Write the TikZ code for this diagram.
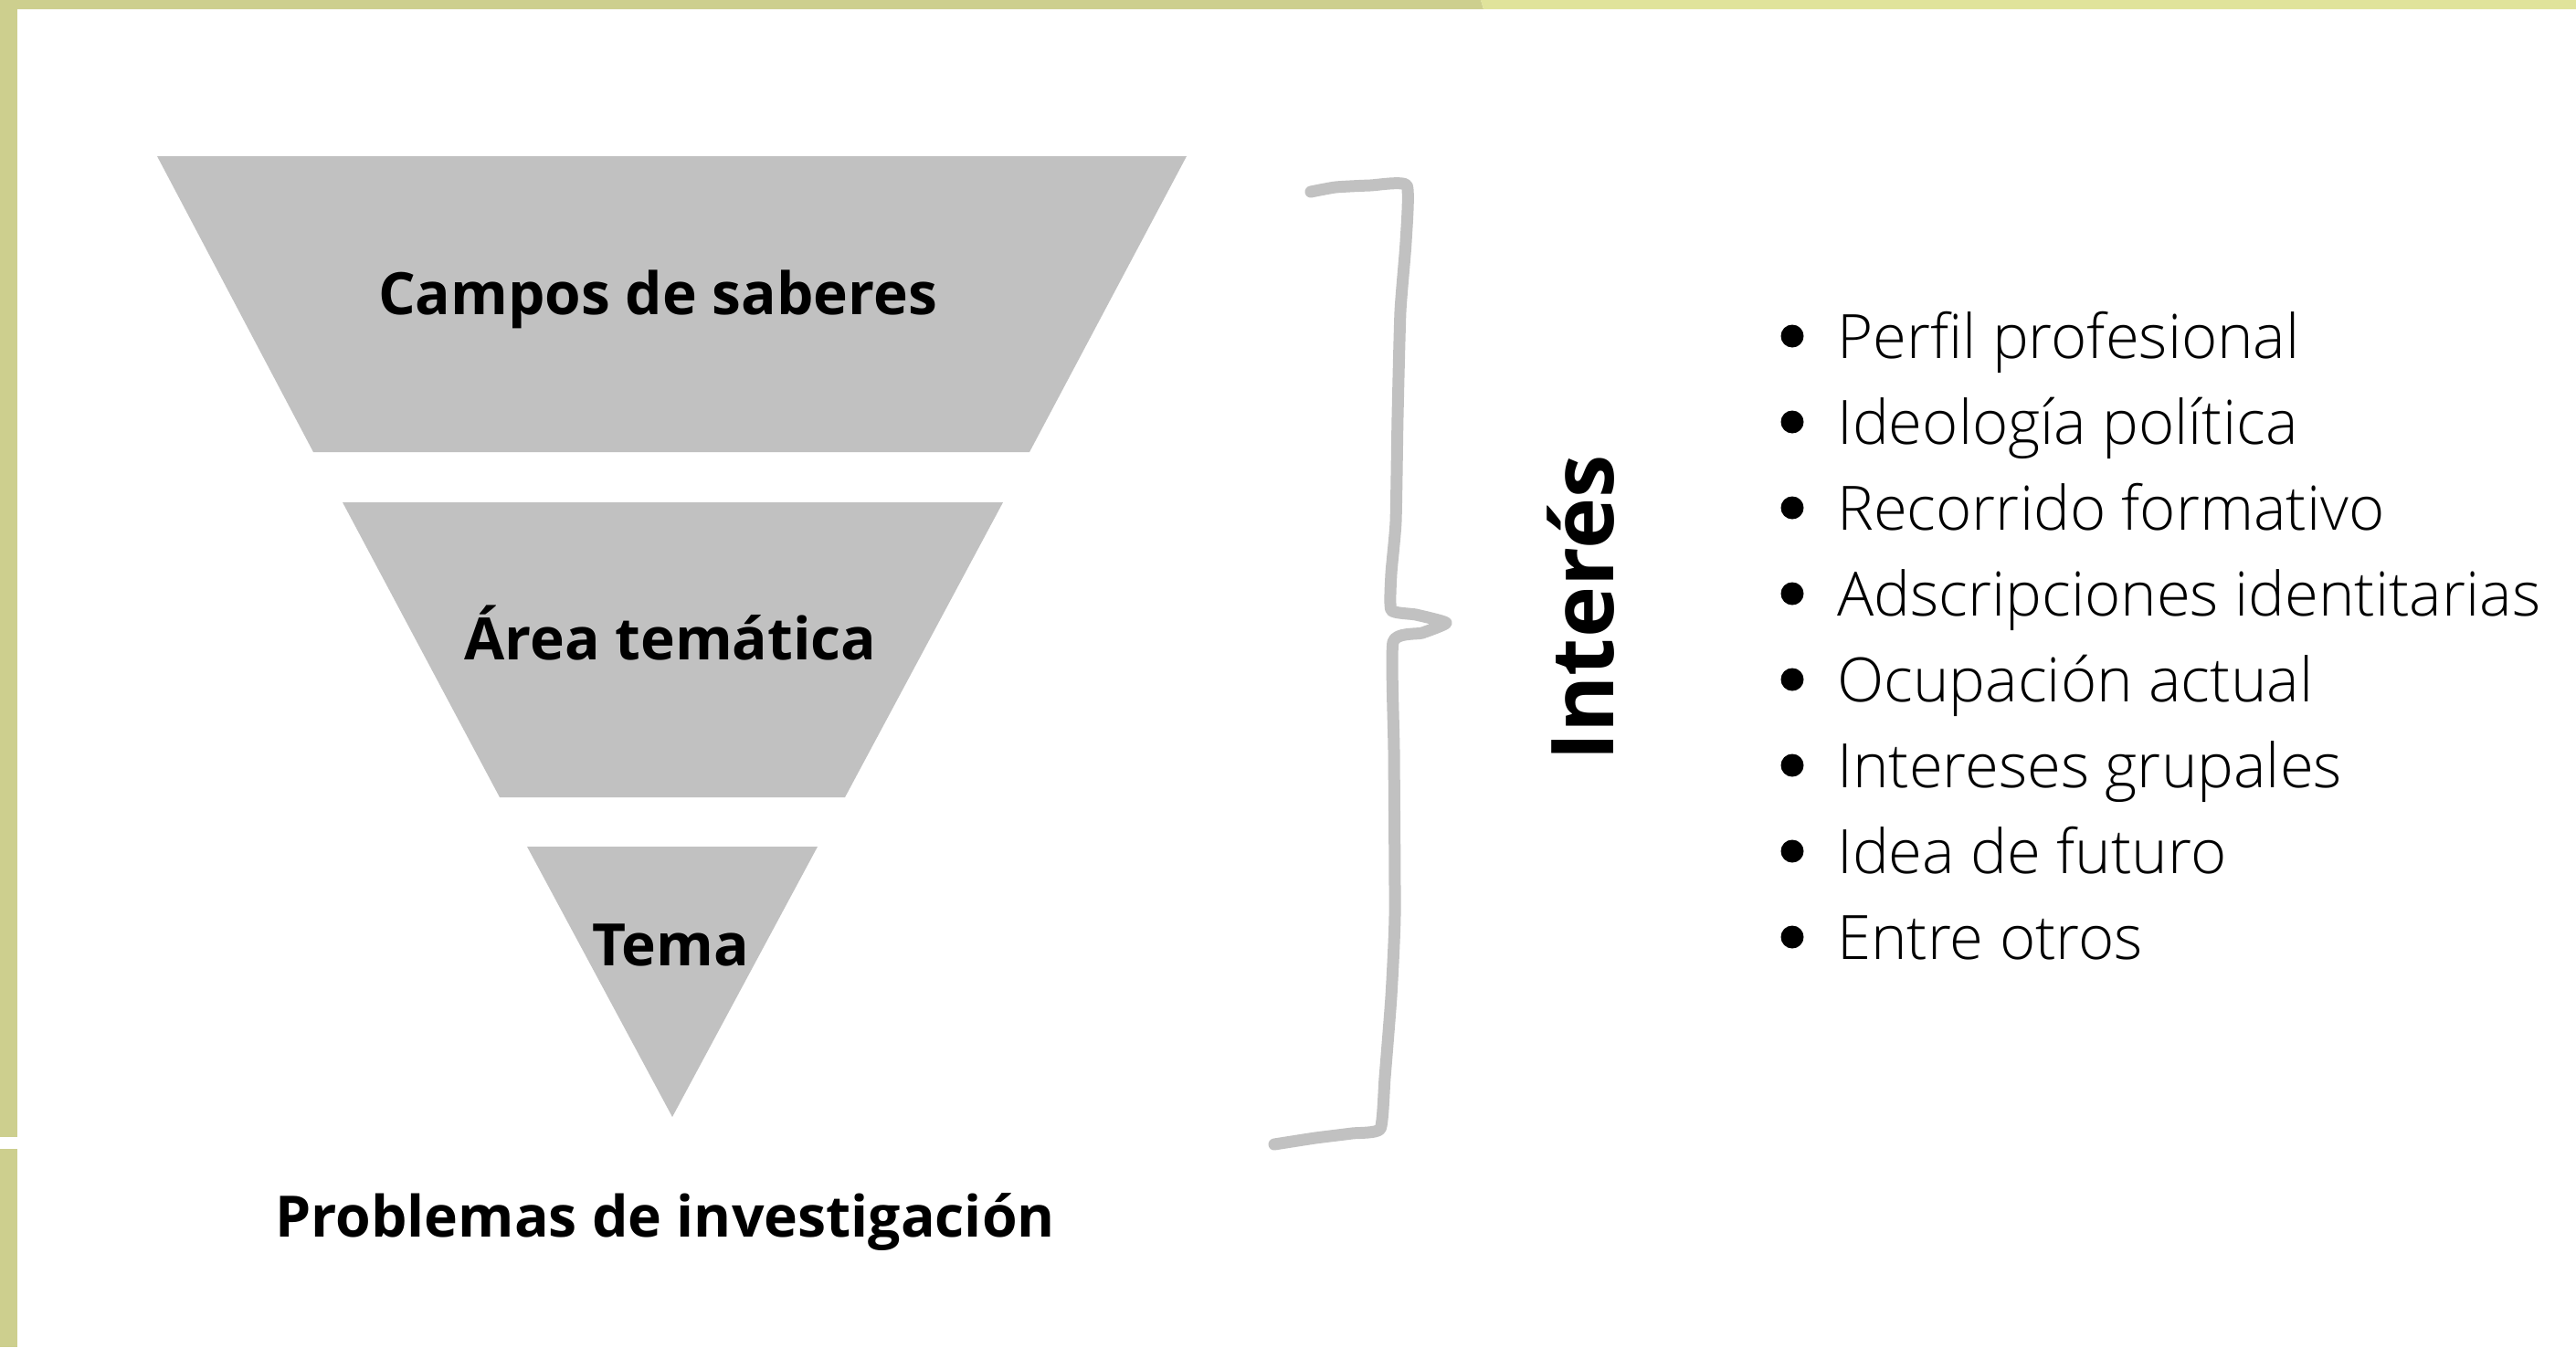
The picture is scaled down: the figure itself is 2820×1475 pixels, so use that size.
\documentclass[tikz,border=0pt]{standalone}
\usepackage{fontspec}
\setmainfont{Open Sans}
\newfontfamily\lightfont{Open Sans Light}
\definecolor{olivedark}{HTML}{CDCF8E}
\definecolor{olivelight}{HTML}{E0E39B}
\definecolor{funnelgray}{HTML}{C1C1C1}
\begin{document}
\begin{tikzpicture}[x=1pt,y=-1pt,
  funnel/.style={fill=funnelgray,draw=none},
  boldlabel/.style={font=\fontsize{64}{77}\selectfont\bfseries,inner sep=0pt,anchor=base},
  itemtext/.style={font=\lightfont\fontsize{67}{80}\selectfont,inner sep=0pt,anchor=base west},
  bulletdot/.style={fill=black,draw=none},
  bracestroke/.style={draw=funnelgray,line width=13pt,line cap=round,line join=round}]
\useasboundingbox (0,0) rectangle (2820,1475);
\fill[white] (0,0) rectangle (2820,1475);
% borders
\fill[olivedark] (0,0) -- (1621,0) -- (1624,10) -- (0,10) -- cycle;
\fill[olivelight] (1621,0) -- (2820,0) -- (2820,10) -- (1624,10) -- cycle;
\fill[olivedark] (0,0) rectangle (19,1245);
\fill[olivedark] (0,1258) rectangle (19,1475);
% funnel
\fill[funnel] (172,171) -- (1299,171) -- (1127,495) -- (343,495) -- cycle;
\fill[funnel] (375,550) -- (1098,550) -- (925,873) -- (547,873) -- cycle;
\fill[funnel] (577,927) -- (895,927) -- (736,1223) -- cycle;
\node[boldlabel] (campos) at (720,344) {Campos de saberes};
\node[boldlabel] (area) at (734,722) {Área temática};
\node[boldlabel] (tema) at (734,1057) {Tema};
\node[boldlabel,font=\fontsize{62.5}{75}\selectfont\bfseries] (problemas) at (728,1354) {Problemas de investigación};
% brace
\draw[bracestroke] plot[smooth,tension=0.3] coordinates {(1435,210) (1462,205) (1500,203) (1540,203) (1539,265) (1533,341) (1530,456) (1528,571) (1523,628) (1523,668) (1550,673) (1583,682) (1557,693) (1525,703) (1526,823) (1527,1002) (1523,1091) (1516,1180) (1511,1236) (1480,1241) (1440,1246) (1395,1253)};
\node[font=\fontsize{95}{112}\selectfont\bfseries,inner sep=0pt,anchor=base,rotate=90] (interes) at (1766,666) {Interés};
% list
\foreach \t [count=\i from 0] in {Perfil profesional,Ideología política,Recorrido formativo,Adscripciones identitarias,Ocupación actual,Intereses grupales,Idea de futuro,Entre otros}{
  \pgfmathsetmacro{\yb}{392+94*\i}
  \fill[bulletdot] (1962,\yb-24) circle (12.5);
  \node[itemtext] (item\i) at (2011,\yb) {\t};
}
\end{tikzpicture}
\end{document}
